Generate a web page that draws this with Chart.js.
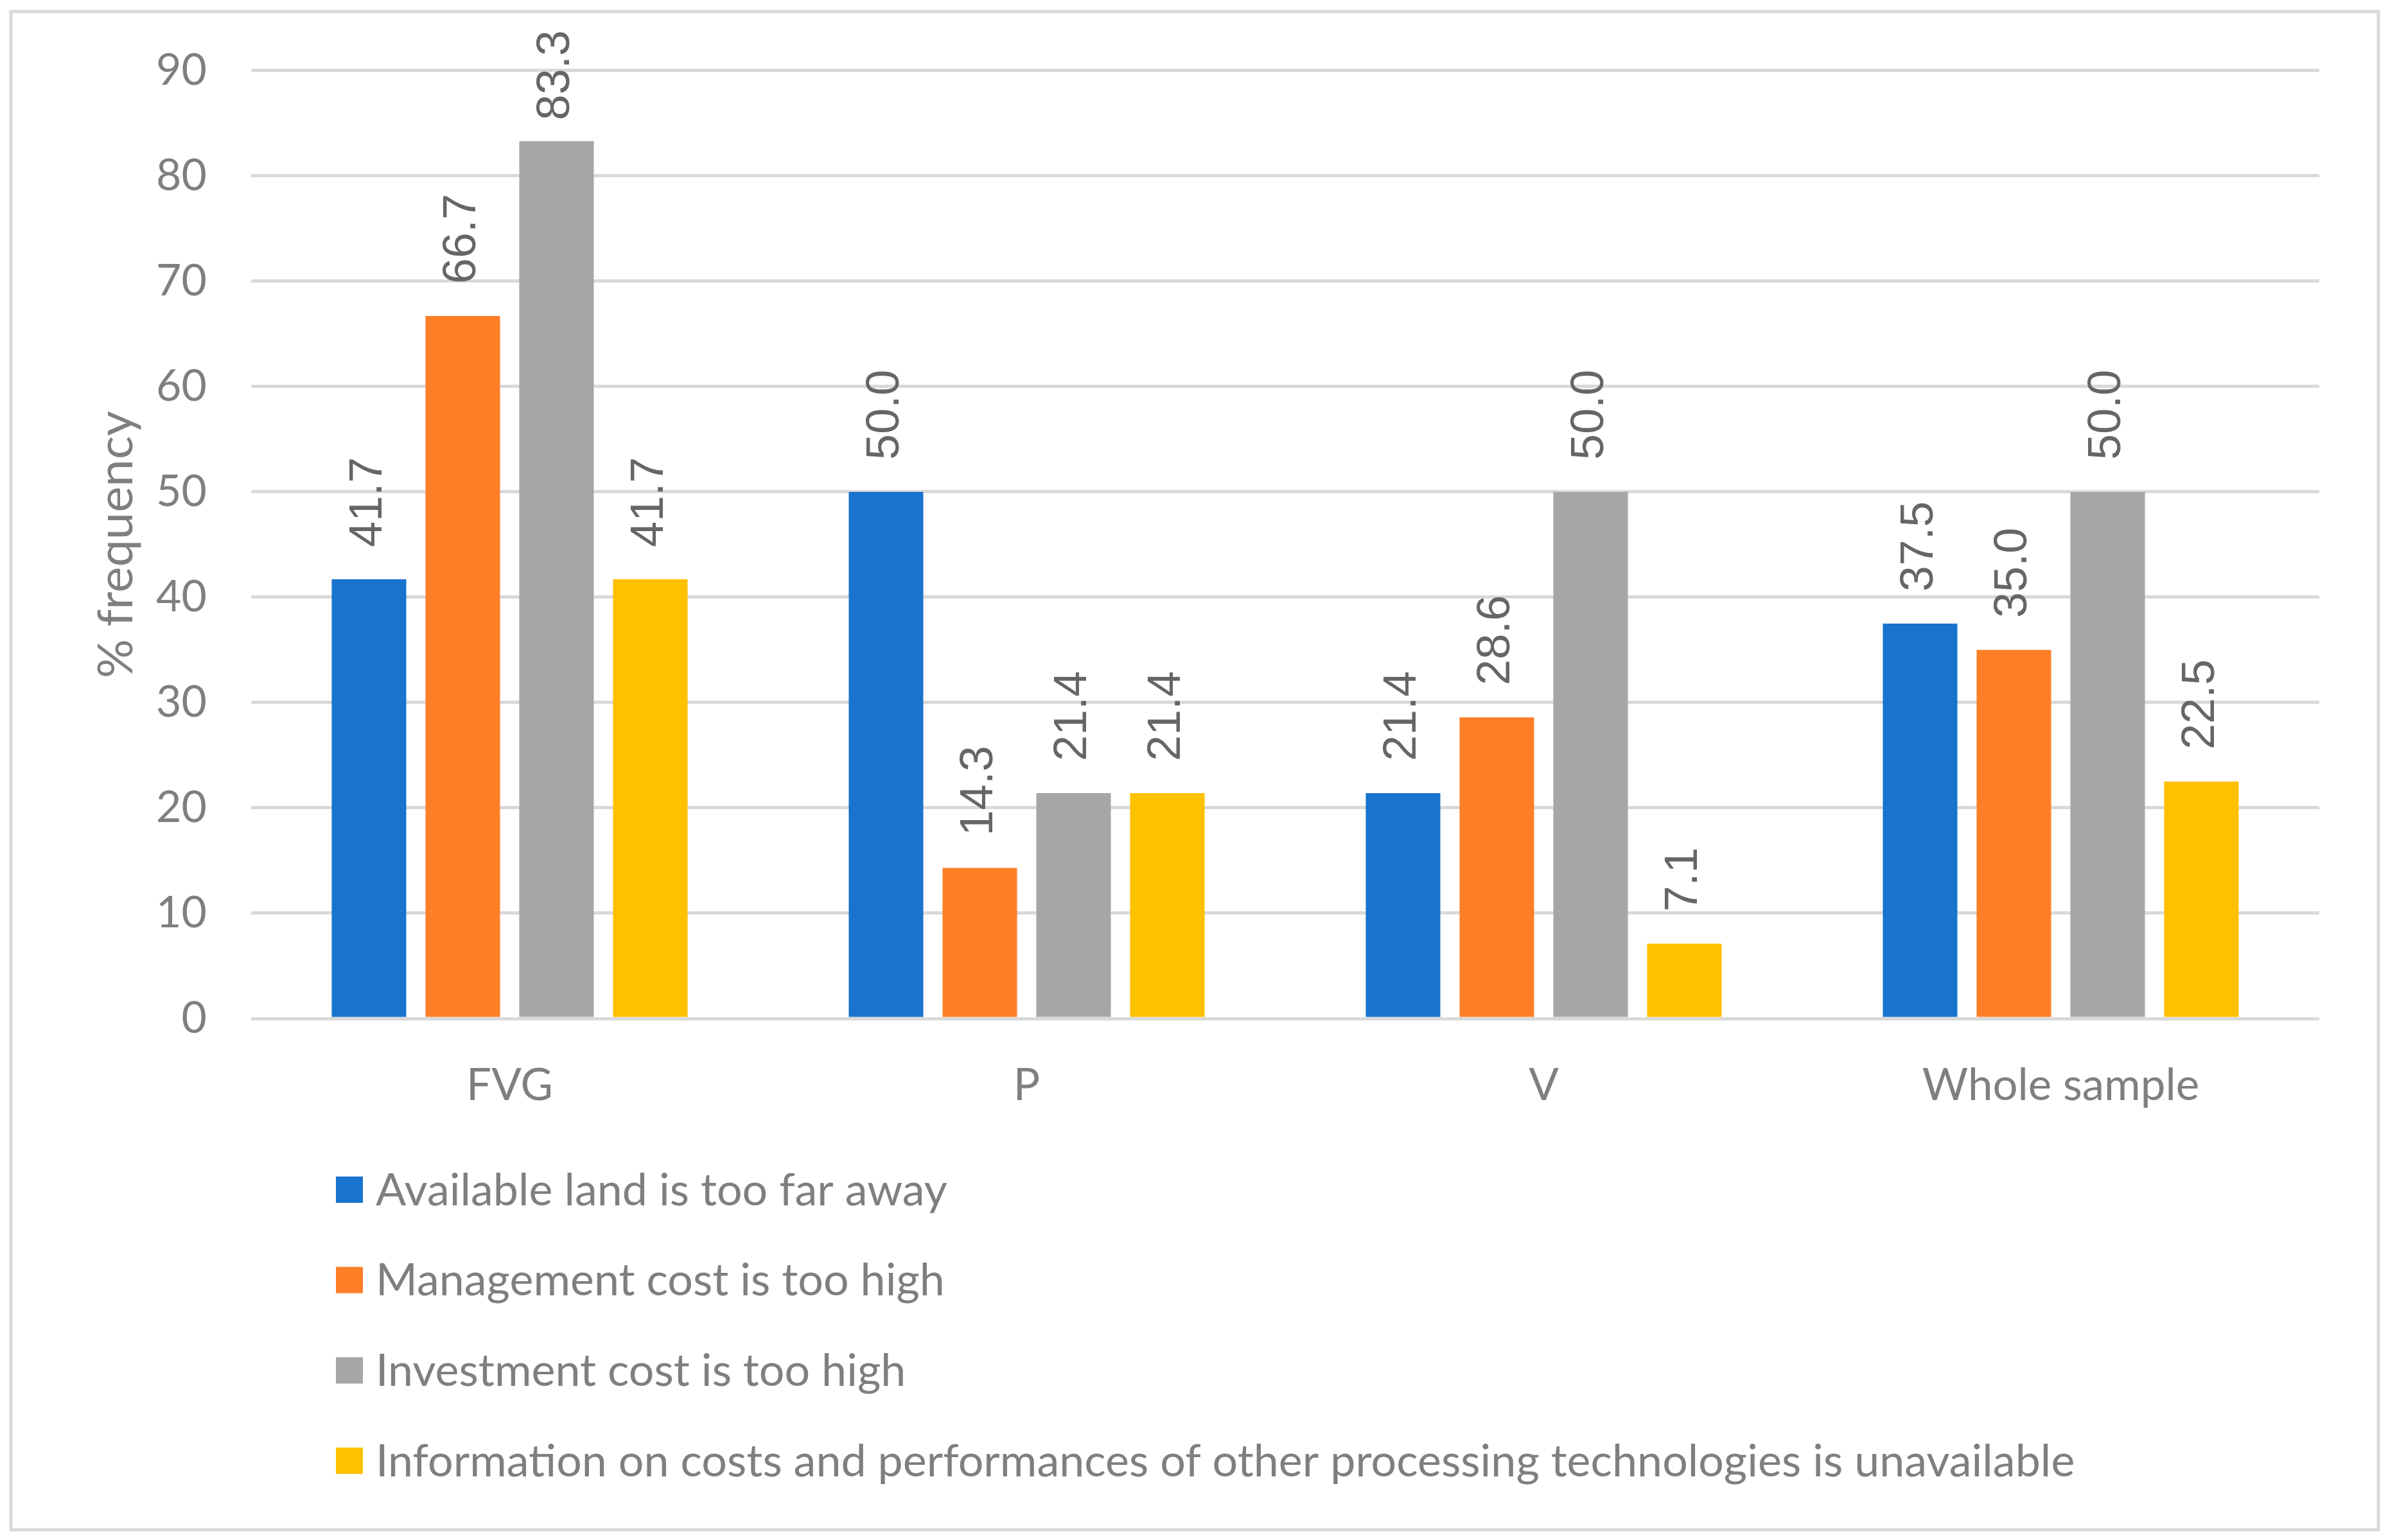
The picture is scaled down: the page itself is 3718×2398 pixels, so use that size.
<!DOCTYPE html>
<html>
<head>
<meta charset="utf-8">
<script src="https://cdn.jsdelivr.net/npm/chart.js@4.4.1/dist/chart.umd.min.js"></script>
<style>
html, body { margin: 0; padding: 0; background: #ffffff; }
#wrap { position: absolute; left: 0; top: 0; width: 3718px; height: 2398px; }
</style>
</head>
<body>
<div id="wrap"><canvas id="c" width="3718" height="2398"></canvas></div>
<script>
const categories = ['FVG', 'P', 'V', 'Whole sample'];
const seriesNames = [
  'Available land is too far away',
  'Management cost is too high',
  'Investment cost is too high',
  'Information on costs and performances of other processing technologies is unavailable'
];
const availableLand = [41.7, 50.0, 21.4, 37.5];
const managementCost = [66.7, 14.3, 28.6, 35.0];
const investmentCost = [83.3, 21.4, 50.0, 50.0];
const informationCost = [41.7, 21.4, 7.1, 22.5];
const yTicks = [0, 10, 20, 30, 40, 50, 60, 70, 80, 90];
const seriesColors = ['#1874CD', '#FE7F28', '#A6A6A6', '#FFC000'];

const W = 3718, H = 2398;
const PLOT_L = 391, PLOT_R = 3611, PLOT_T = 109, PLOT_B = 1586;

const frameAndBackground = {
  id: 'frameAndBackground',
  beforeDraw(chart) {
    const ctx = chart.ctx;
    ctx.save();
    ctx.fillStyle = '#ffffff';
    ctx.fillRect(0, 0, W, H);
    ctx.strokeStyle = '#d9d9d9';
    ctx.lineWidth = 5;
    ctx.strokeRect(17, 18, 3686, 2364);
    ctx.restore();
  }
};

const barValueLabels = {
  id: 'barValueLabels',
  afterDatasetsDraw(chart) {
    const ctx = chart.ctx;
    ctx.save();
    ctx.font = '72px "Liberation Sans", Arial, sans-serif';
    ctx.fillStyle = '#666666';
    ctx.textAlign = 'left';
    ctx.textBaseline = 'middle';
    chart.data.datasets.forEach((ds, i) => {
      const meta = chart.getDatasetMeta(i);
      meta.data.forEach((el, j) => {
        const txt = ds.data[j].toFixed(1);
        const len = ctx.measureText(txt).width;
        let start = el.y - 50;
        if (start - len < 47) start = 47 + len;
        ctx.save();
        ctx.translate(el.x, start);
        ctx.rotate(-Math.PI / 2);
        ctx.fillText(txt, 0, 0);
        ctx.restore();
      });
    });
    ctx.restore();
  }
};

const stackedLegend = {
  id: 'stackedLegend',
  afterDraw(chart) {
    const ctx = chart.ctx;
    ctx.save();
    ctx.font = '70px Lato, "Open Sans", sans-serif';
    ctx.textAlign = 'left';
    ctx.textBaseline = 'middle';
    chart.data.datasets.forEach((ds, i) => {
      const cy = 1852 + i * 140.7;
      ctx.fillStyle = ds.backgroundColor;
      ctx.fillRect(523, cy - 20, 42, 41);
      ctx.fillStyle = '#7f7f7f';
      ctx.fillText(ds.label, 585, cy + 2);
    });
    ctx.restore();
  }
};

const datasetValues = [availableLand, managementCost, investmentCost, informationCost];

new Chart(document.getElementById('c'), {
  type: 'bar',
  data: {
    labels: categories,
    datasets: datasetValues.map((vals, i) => ({
      label: seriesNames[i],
      data: vals,
      backgroundColor: seriesColors[i],
      borderWidth: 0,
      categoryPercentage: 0.7255,
      barPercentage: 0.795
    }))
  },
  options: {
    responsive: false,
    devicePixelRatio: 1,
    animation: false,
    layout: { padding: { left: 0, right: W - PLOT_R, top: PLOT_T, bottom: 0 } },
    plugins: {
      legend: { display: false },
      tooltip: { enabled: false },
      title: { display: false }
    },
    scales: {
      x: {
        grid: { display: false },
        border: { display: false },
        ticks: {
          color: '#7f7f7f',
          font: { family: 'Lato, "Open Sans", sans-serif', size: 69 },
          padding: 55,
          maxRotation: 0,
          autoSkip: false
        },
        afterFit(scale) { scale.height = H - PLOT_B; }
      },
      y: {
        min: 0,
        max: 90,
        afterBuildTicks(scale) { scale.ticks = yTicks.map(v => ({ value: v })); },
        grid: { color: '#d9d9d9', lineWidth: 5, drawTicks: false },
        border: { display: false },
        ticks: {
          color: '#7f7f7f',
          font: { family: 'Lato, "Open Sans", sans-serif', size: 68 },
          padding: 69
        },
        title: {
          display: true,
          text: '% frequency',
          color: '#7f7f7f',
          font: { family: 'Lato, "Open Sans", sans-serif', size: 76 },
          padding: { top: 136, bottom: 0 }
        },
        afterFit(scale) { scale.width = PLOT_L; }
      }
    }
  },
  plugins: [frameAndBackground, barValueLabels, stackedLegend]
});
</script>
</body>
</html>
